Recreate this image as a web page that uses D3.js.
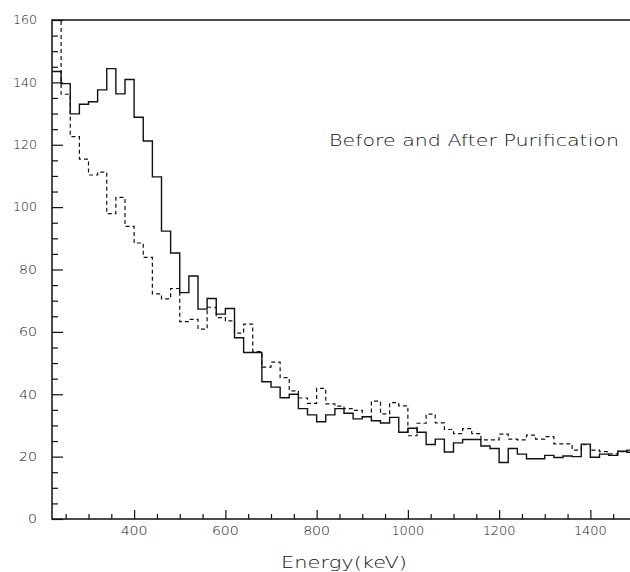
<!DOCTYPE html>
<html>
<head>
<meta charset="utf-8">
<script src="https://cdn.jsdelivr.net/npm/d3@7"></script>
<style>
    body { margin: 0; background: #fff; }
    text { font-family: "DejaVu Sans", sans-serif; font-weight: 200; fill: #111; }
</style>
</head>
<body>
<div id="chart"></div>
<script>

// histogram binning (keV)
const binStart = 220;
const binWidth = 20;

// counts per bin, before purification (solid)
const beforeCounts = [
    143.5, 139.6, 129.9, 133.0, 133.8, 137.6, 144.4, 136.3, 140.9, 128.8,
    121.2, 109.7, 92.3, 85.3, 72.6, 77.9, 67.3, 70.7, 65.7, 67.5,
    58.1, 53.4, 53.4, 44.0, 42.3, 38.9, 40.0, 35.4, 33.4, 31.2,
    33.4, 35.4, 33.9, 32.1, 32.8, 31.5, 30.8, 32.6, 27.8, 29.1,
    27.8, 23.9, 25.6, 21.5, 24.4, 25.5, 25.5, 23.4, 22.6, 18.1,
    22.6, 20.8, 19.3, 19.3, 20.4, 19.7, 20.2, 20.0, 24.0, 19.8,
    20.8, 20.4, 21.7, 21.4
];

// counts per bin, after purification (dashed)
const afterCounts = [
    168.0, 136.2, 122.6, 115.4, 110.3, 111.2, 97.9, 103.1, 93.8, 88.5,
    83.9, 72.2, 70.6, 73.9, 63.3, 64.0, 60.9, 67.9, 64.6, 63.5,
    59.6, 62.5, 53.7, 48.7, 50.3, 45.3, 41.1, 38.8, 37.1, 41.9,
    36.9, 36.2, 35.4, 34.8, 32.8, 37.8, 33.7, 37.3, 36.3, 26.7,
    30.7, 33.6, 30.8, 28.7, 27.4, 29.0, 27.4, 25.4, 25.4, 27.2,
    25.6, 25.4, 26.9, 25.6, 26.4, 24.1, 24.1, 22.1, 23.8, 22.1,
    21.6, 20.9, 21.6, 22.1
];

const xMajorTicks = [400, 600, 800, 1000, 1200, 1400];
const yMajorTicks = [0, 20, 40, 60, 80, 100, 120, 140, 160];
const xLabel = "Energy(keV)";
const title = "Before and After Purification";

const width = 630, height = 572;
const margin = {left: 52, top: 20, bottom: 519};

const svg = d3.select("#chart").append("svg")
    .attr("width", width)
    .attr("height", height);

const x = d3.scaleLinear()
    .domain([binStart, binStart + binWidth * beforeCounts.length])
    .range([margin.left, 636]);
const y = d3.scaleLinear()
    .domain([0, 160])
    .range([margin.bottom, margin.top]);

svg.append("clipPath").attr("id", "plot-clip")
    .append("rect")
    .attr("x", margin.left).attr("y", margin.top)
    .attr("width", width - margin.left).attr("height", margin.bottom - margin.top);

// turn bin counts into step points, closing the last bin
function toSteps(counts) {
    let pts = counts.map((c, i) => [binStart + i * binWidth, c]);
    pts.push([binStart + counts.length * binWidth, counts[counts.length - 1]]);
    return pts;
}

const stepLine = d3.line()
    .x(d => x(d[0]))
    .y(d => y(d[1]))
    .curve(d3.curveStepAfter);

const plot = svg.append("g").attr("clip-path", "url(#plot-clip)");

plot.append("path")
    .datum(toSteps(afterCounts))
    .attr("d", stepLine)
    .attr("fill", "none")
    .attr("stroke", "#111")
    .attr("stroke-width", 1.2)
    .attr("stroke-dasharray", "4,3");

plot.append("path")
    .datum(toSteps(beforeCounts))
    .attr("d", stepLine)
    .attr("fill", "none")
    .attr("stroke", "#111")
    .attr("stroke-width", 1.4);

// axes with inward ticks
const xAxis = d3.axisTop(x)
    .tickValues(d3.range(250, 1500, 50))
    .tickSize(5)
    .tickFormat("");
const yAxis = d3.axisRight(y)
    .tickValues(d3.range(0, 161, 5))
    .tickSize(6)
    .tickFormat("");

const gx = svg.append("g")
    .attr("transform", `translate(0,${margin.bottom})`)
    .call(xAxis);
gx.selectAll(".tick line")
    .filter(d => xMajorTicks.includes(d))
    .attr("y2", -9);

const gy = svg.append("g")
    .attr("transform", `translate(${margin.left},0)`)
    .call(yAxis);
gy.selectAll(".tick line")
    .filter(d => yMajorTicks.includes(d))
    .attr("x2", 11);

svg.selectAll(".domain").remove();
svg.selectAll(".tick line").attr("stroke", "#111").attr("stroke-width", 1.2);

// frame: left, bottom, top
svg.append("path")
    .attr("d", `M${width},${margin.top}H${margin.left}V${margin.bottom}H${width}`)
    .attr("fill", "none")
    .attr("stroke", "#111")
    .attr("stroke-width", 1.5);

// tick labels (wide font look: stretch glyphs a little)
svg.append("g").selectAll("text")
    .data(xMajorTicks)
    .join("text")
    .attr("x", d => x(d))
    .attr("y", 535)
    .attr("text-anchor", "middle")
    .attr("font-size", 12)
    .attr("textLength", d => String(d).length * 9 - (String(d).startsWith("1") ? 3 : 0))
    .attr("lengthAdjust", "spacingAndGlyphs")
    .text(d => d);

svg.append("g").selectAll("text")
    .data(yMajorTicks)
    .join("text")
    .attr("x", 37)
    .attr("y", d => y(d) + 4.3)
    .attr("text-anchor", "end")
    .attr("font-size", 12)
    .attr("textLength", d => String(d).length * 9 - (String(d).startsWith("1") ? 3 : 0))
    .attr("lengthAdjust", "spacingAndGlyphs")
    .text(d => d);

svg.append("text")
    .attr("x", 281)
    .attr("y", 568)
    .attr("font-size", 15)
    .attr("textLength", 126)
    .attr("lengthAdjust", "spacingAndGlyphs")
    .text(xLabel);

svg.append("text")
    .attr("x", 329)
    .attr("y", 146)
    .attr("font-size", 15)
    .attr("textLength", 290)
    .attr("lengthAdjust", "spacingAndGlyphs")
    .text(title);

</script>
</body>
</html>
